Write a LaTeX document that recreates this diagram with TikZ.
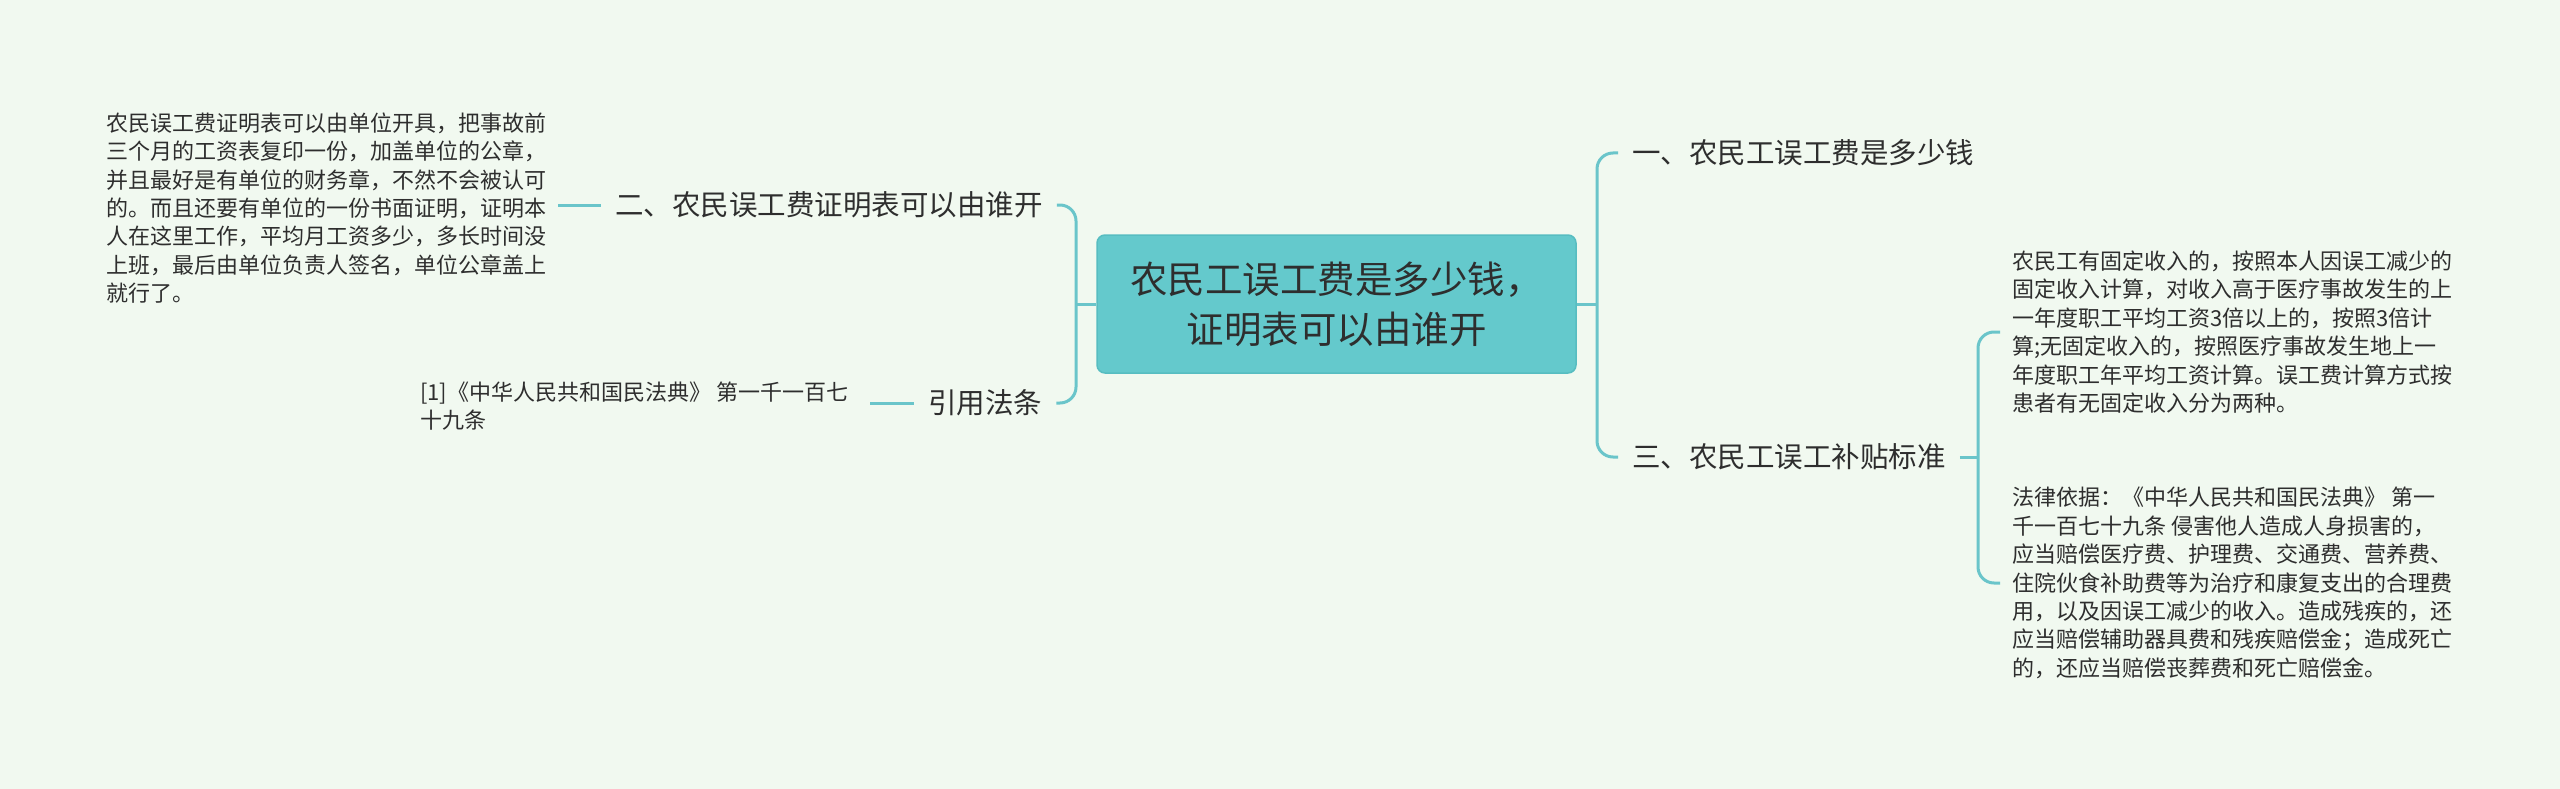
\documentclass[tikz,border=0pt]{standalone}
\usepackage{fontspec}
\newfontfamily\cjk{Noto Sans CJK SC}
\definecolor{bgc}{HTML}{F1F9F0}
\definecolor{lnc}{HTML}{6AC5CA}
\definecolor{boxc}{HTML}{64C9CC}
\definecolor{boxd}{HTML}{57BDC1}
\definecolor{txc}{HTML}{2E2E2E}
\begin{document}
\begin{tikzpicture}[x=1pt,y=-1pt,
  rootbox/.style={draw=boxd, line width=1.5pt, fill=boxc, rounded corners=8pt,
    minimum width=479pt, minimum height=138pt, align=center, text=txc,
    font=\cjk\fontsize{37.5}{50}\selectfont, inner sep=0pt},
  branch/.style={text=txc, font=\cjk\fontsize{28.5}{34}\selectfont, inner xsep=14pt, inner ysep=4pt},
  leaf/.style={text=txc, align=left, font=\cjk\fontsize{22}{28.4}\selectfont, inner xsep=12pt, inner ysep=2pt},
  conn/.style={draw=lnc, line width=3pt}]
\fill[bgc] (0,0) rectangle (2560,789);
\useasboundingbox (0,0) rectangle (2560,789);

\node[rootbox] (root) at (1336.5,304) {农民工误工费是多少钱，\\证明表可以由谁开};

\node[branch, anchor=west] (b2) at (601,205) {二、农民误工费证明表可以由谁开};
\node[branch, anchor=west] (b4) at (914,403) {引用法条};
\node[branch, anchor=west] (b1) at (1618,153) {一、农民工误工费是多少钱};
\node[branch, anchor=west] (b3) at (1618,457) {三、农民工误工补贴标准};

\node[leaf, anchor=west] (l2) at (94,208) {农民误工费证明表可以由单位开具，把事故前\\三个月的工资表复印一份，加盖单位的公章，\\并且最好是有单位的财务章，不然不会被认可\\的。而且还要有单位的一份书面证明，证明本\\人在这里工作，平均月工资多少，多长时间没\\上班，最后由单位负责人签名，单位公章盖上\\就行了。};
\node[leaf, anchor=west] (l4) at (408,406) {[1]《中华人民共和国民法典》 第一千一百七\\十九条};
\node[leaf, anchor=west] (l3a) at (2000,332) {农民工有固定收入的，按照本人因误工减少的\\固定收入计算，对收入高于医疗事故发生的上\\一年度职工平均工资3倍以上的，按照3倍计\\算;无固定收入的，按照医疗事故发生地上一\\年度职工年平均工资计算。误工费计算方式按\\患者有无固定收入分为两种。};
\node[leaf, anchor=west] (l3b) at (2000,583) {法律依据：《中华人民共和国民法典》 第一\\千一百七十九条 侵害他人造成人身损害的，\\应当赔偿医疗费、护理费、交通费、营养费、\\住院伙食补助费等为治疗和康复支出的合理费\\用，以及因误工减少的收入。造成残疾的，还\\应当赔偿辅助器具费和残疾赔偿金；造成死亡\\的，还应当赔偿丧葬费和死亡赔偿金。};

\coordinate (lb) at (1076,304);
\coordinate (rb) at (1597,304);
\coordinate (tb) at (1978,457);

\draw[conn] (root.west) -- (lb);
\draw[conn, rounded corners=16pt] (b2.east) -- (b2.east -| lb) -- (b4.east -| lb) -- (b4.east);
\draw[conn] (root.east) -- (rb);
\draw[conn, rounded corners=16pt] (b1.west) -- (b1.west -| rb) -- (b3.west -| rb) -- (b3.west);
\draw[conn] (b3.east) -- (tb);
\draw[conn, rounded corners=16pt] (l3a.west) -- (l3a.west -| tb) -- (l3b.west -| tb) -- (l3b.west);
\draw[conn] (l2.east |- b2.west) -- (b2.west);
\draw[conn] ([xshift=10pt]l4.east |- b4.west) -- (b4.west);
\end{tikzpicture}
\end{document}
